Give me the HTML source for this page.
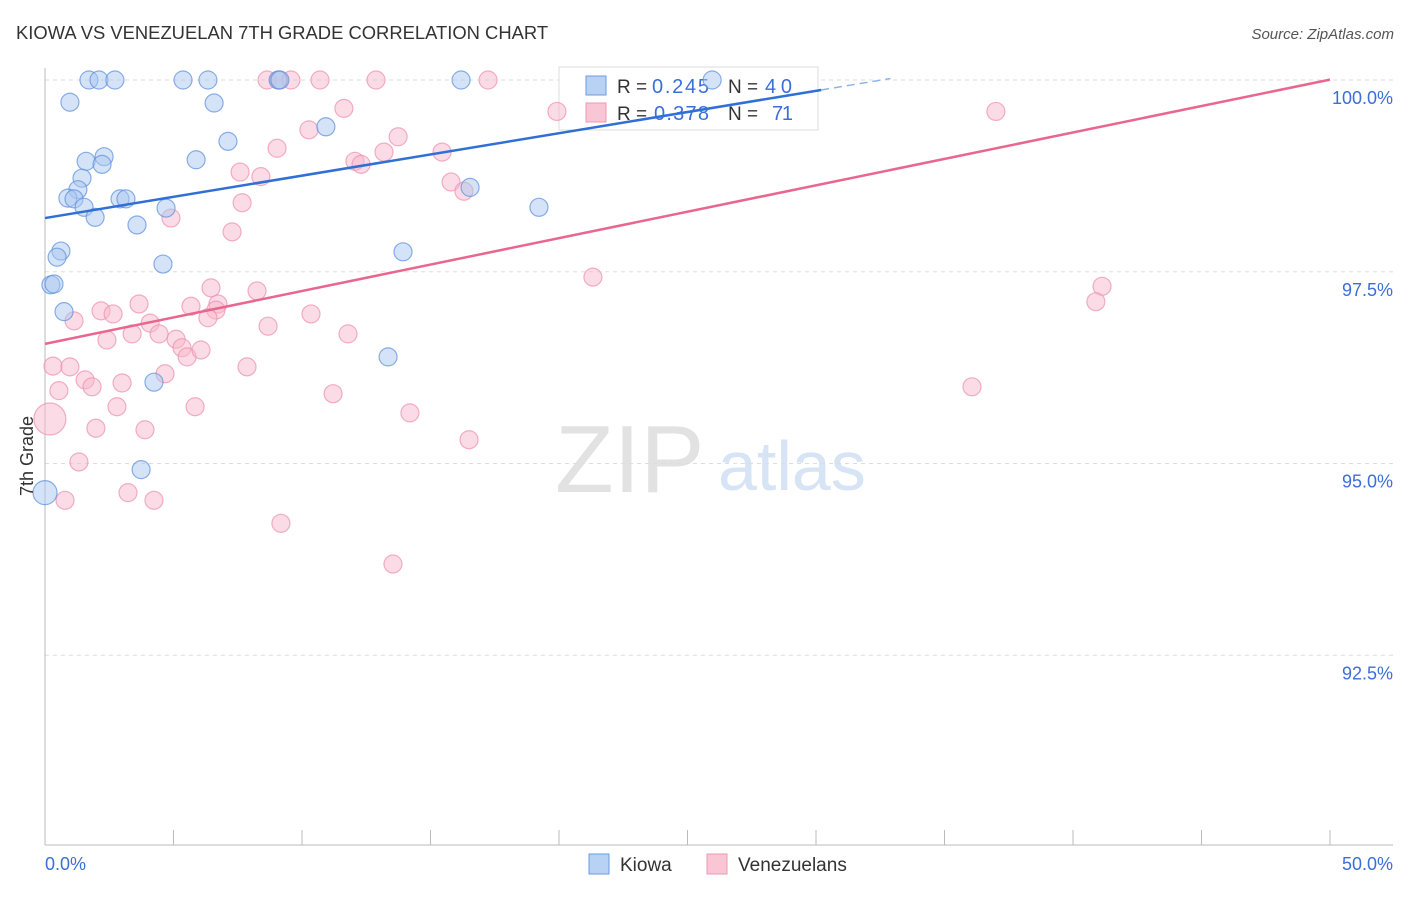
<!DOCTYPE html>
<html><head><meta charset="utf-8"><style>
body{margin:0;background:#fff;font-family:"Liberation Sans",sans-serif}
svg text{font-family:"Liberation Sans",sans-serif}
</style></head><body>
<svg id="chart" width="1406" height="892" viewBox="0 0 1406 892">
<text x="16" y="39" font-size="18.4" fill="#333">KIOWA VS VENEZUELAN 7TH GRADE CORRELATION CHART</text>
<text x="1394" y="39" font-size="15" fill="#555" text-anchor="end" font-style="italic">Source: ZipAtlas.com</text>
<g>
<text x="555" y="492" font-size="96" fill="#e2e2e2" font-family="Liberation Serif, serif">ZIP</text>
<text x="718" y="490" font-size="70" fill="#d6e4f5">atlas</text>
</g>
<g id="grid"></g>
<g>
<rect x="559" y="67" width="259" height="63" fill="#fff" stroke="#ddd"/>
<rect x="586" y="76" width="20" height="19" fill="#b8d2f3" stroke="#6a9be0"/>
<rect x="586" y="103" width="20" height="19" fill="#f9c6d6" stroke="#ee98b3"/>
<text x="617" y="93" font-size="19" fill="#333">R =</text>
<text x="652" y="93" font-size="20" fill="#3a6fd8" textLength="57">0.245</text>
<text x="728" y="93" font-size="19" fill="#333">N =</text>
<text x="765" y="93" font-size="20" fill="#3a6fd8" textLength="27">40</text>
<text x="617" y="120" font-size="19" fill="#333">R =</text>
<text x="654" y="120" font-size="20" fill="#3a6fd8" textLength="55">0.378</text>
<text x="728" y="120" font-size="19" fill="#333">N =</text>
<text x="772" y="120" font-size="20" fill="#3a6fd8" textLength="21">71</text>
</g>
<g id="axes"></g>
<g id="pts"></g>
<g id="lines"></g>
<text transform="translate(33,456) rotate(-90)" font-size="18" fill="#333" text-anchor="middle">7th Grade</text>
<g>
<rect x="589" y="854" width="20" height="20" fill="#b8d2f3" stroke="#6a9be0"/>
<text x="620" y="871" font-size="19" fill="#333">Kiowa</text>
<rect x="707" y="854" width="20" height="20" fill="#f9c6d6" stroke="#ee98b3"/>
<text x="738" y="871" font-size="19" fill="#333">Venezuelans</text>
</g>
</svg>
<script>
const yTicks=[100,97.5,95,92.5];
const yTickLabels=["100.0%","97.5%","95.0%","92.5%"];
const xTickLabels=["0.0%","50.0%"];
const kiowaX=[1.71,2.10,2.72,5.37,6.34,9.07,9.14,16.19,25.96,0.97,6.58,10.93,7.12,1.60,2.30,5.88,2.22,1.44,1.28,0.89,1.13,2.92,3.15,1.52,4.71,1.95,3.58,16.54,19.22,0.62,0.47,4.59,13.93,0.23,0.35,0.74,13.35,4.24,3.74,0];
const kiowaY=[100,100,100,100,100,100,100,100,100,99.71,99.70,99.39,99.20,98.94,99.00,98.96,98.90,98.72,98.57,98.46,98.45,98.45,98.45,98.34,98.33,98.21,98.11,98.60,98.34,97.77,97.69,97.60,97.76,97.33,97.34,96.98,96.39,96.06,94.92,94.62];
const venX=[8.64,9.11,9.57,10.70,12.88,17.24,11.63,19.92,37.00,10.27,13.74,9.03,13.19,15.45,12.06,12.30,7.59,8.40,15.80,16.30,4.90,7.67,7.28,21.32,41.13,40.89,6.46,8.25,3.66,2.18,2.65,5.68,6.73,6.65,6.34,10.35,1.13,4.09,8.68,11.79,2.41,3.39,4.44,5.10,5.33,5.53,6.07,0.31,0.97,7.86,4.67,1.56,3.00,1.83,0.54,11.21,36.07,2.80,5.84,14.20,1.98,3.89,0.19,16.50,1.32,3.23,4.24,0.78,9.18,13.54];
const venY=[100,100,100,100,100,100,99.63,99.59,99.59,99.35,99.26,99.11,99.06,99.06,98.94,98.90,98.80,98.74,98.67,98.55,98.20,98.40,98.02,97.43,97.31,97.11,97.29,97.25,97.08,96.99,96.95,97.05,97.08,97.00,96.90,96.95,96.86,96.83,96.79,96.69,96.61,96.69,96.69,96.62,96.51,96.39,96.48,96.27,96.26,96.26,96.17,96.09,96.05,96.00,95.95,95.91,96.00,95.74,95.74,95.66,95.46,95.44,95.58,95.31,95.02,94.62,94.52,94.52,94.22,93.69];
const kiowaTrend=[98.2,0.0553];
const venTrend=[96.56,0.0689];
const X=v=>45+v*25.7, Y=v=>80+(100-v)*76.7;
const NS="http://www.w3.org/2000/svg";
function mk(t,a,p){const e=document.createElementNS(NS,t);for(const k in a)e.setAttribute(k,a[k]);p.appendChild(e);return e;}
const grid=document.getElementById('grid'),axes=document.getElementById('axes'),pts=document.getElementById('pts'),lines=document.getElementById('lines');
yTicks.forEach((t,i)=>{
const g=mk('line',{x1:45,x2:1393,y1:Y(t),y2:Y(t),stroke:'#ddd','stroke-dasharray':'4,4'},grid);


const tx=mk('text',{x:1393,y:Y(t)+24,'font-size':18,fill:'#3a6fd8','text-anchor':'end'},grid);
tx.textContent=yTickLabels[i];


});
let a=mk('line',{x1:45,x2:45,y1:68,y2:845,stroke:'#bbb'},axes);


a=mk('line',{x1:45,x2:1393,y1:845,y2:845,stroke:'#bbb'},axes);


for(let i=0;i<=10;i++){const t=mk('line',{x1:X(i*5),x2:X(i*5),y1:830,y2:845,stroke:'#bbb'},axes);

}
[[0,'start'],[50,'end']].forEach((d,i)=>{const t=mk('text',{x:X(d[0])+(i?63:0),y:870,'font-size':18,fill:'#3a6fd8','text-anchor':d[1]},axes);t.textContent=xTickLabels[i];

});
function dots(xs,ys,fill,stroke,name){xs.forEach((x,i)=>{let r=9;if(name==='kiowa-point'&&x===0)r=12;if(name==='venezuelan-point'&&x<0.25)r=16;
const c=mk('circle',{cx:X(x),cy:Y(ys[i]),r:r,fill:fill,'fill-opacity':0.5,stroke:stroke,'stroke-opacity':0.7,'stroke-width':1.2},pts);

});}
dots(venX,venY,'#f7b8cc','#ee8fae','venezuelan-point');
dots(kiowaX,kiowaY,'#a9c8f0','#5b8fdc','kiowa-point');
let l=mk('line',{x1:X(0),y1:Y(kiowaTrend[0]),x2:X(30.2),y2:Y(kiowaTrend[0]+kiowaTrend[1]*30.2),stroke:'#2f6fd6','stroke-width':2.5},lines);


l=mk('line',{x1:X(30.2),y1:Y(kiowaTrend[0]+kiowaTrend[1]*30.2),x2:X(32.9),y2:Y(kiowaTrend[0]+kiowaTrend[1]*32.9),stroke:'#8fb3e8','stroke-width':1.5,'stroke-dasharray':'8,5'},lines);


l=mk('line',{x1:X(0),y1:Y(venTrend[0]),x2:X(50),y2:Y(venTrend[0]+venTrend[1]*50),stroke:'#e8668f','stroke-width':2.5},lines);


</script>
</body></html>
